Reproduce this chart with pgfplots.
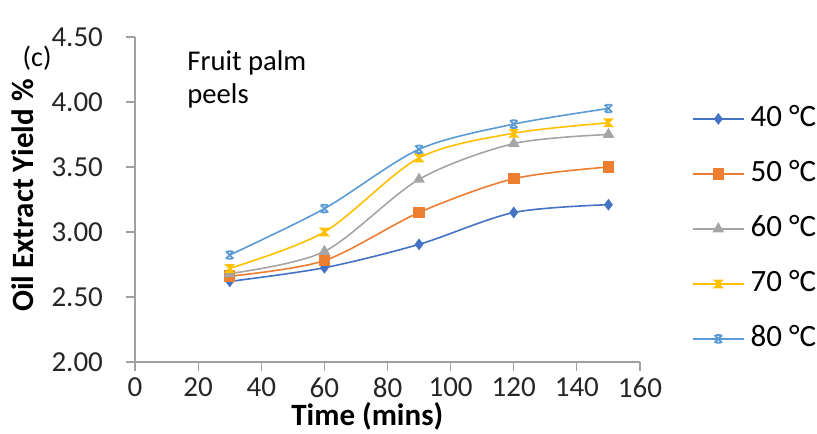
\documentclass[border=0pt]{standalone}
\usepackage{pgfplots}
\pgfplotsset{compat=1.18}
\usepackage{fontspec}
\setmainfont{Carlito}
\definecolor{cA}{HTML}{4472C4}
\definecolor{cB}{HTML}{ED7D31}
\definecolor{cC}{HTML}{A5A5A5}
\definecolor{cD}{HTML}{FFC000}
\definecolor{cE}{HTML}{5B9BD5}
\definecolor{axgray}{HTML}{A0A0A0}
\pgfdeclareplotmark{hourglass}{%
  \pgfpathmoveto{\pgfqpoint{-\pgfplotmarksize}{\pgfplotmarksize}}%
  \pgfpathlineto{\pgfqpoint{\pgfplotmarksize}{\pgfplotmarksize}}%
  \pgfpathlineto{\pgfqpoint{-\pgfplotmarksize}{-\pgfplotmarksize}}%
  \pgfpathlineto{\pgfqpoint{\pgfplotmarksize}{-\pgfplotmarksize}}%
  \pgfpathclose\pgfusepathqfillstroke}
\pgfdeclareplotmark{xcap}{%
  \pgfpathmoveto{\pgfqpoint{-\pgfplotmarksize}{\pgfplotmarksize}}%
  \pgfpathlineto{\pgfqpoint{\pgfplotmarksize}{-\pgfplotmarksize}}%
  \pgfpathmoveto{\pgfqpoint{\pgfplotmarksize}{\pgfplotmarksize}}%
  \pgfpathlineto{\pgfqpoint{-\pgfplotmarksize}{-\pgfplotmarksize}}%
  \pgfpathmoveto{\pgfqpoint{-0.6\pgfplotmarksize}{\pgfplotmarksize}}%
  \pgfpathlineto{\pgfqpoint{0.6\pgfplotmarksize}{\pgfplotmarksize}}%
  \pgfpathmoveto{\pgfqpoint{-0.6\pgfplotmarksize}{-\pgfplotmarksize}}%
  \pgfpathlineto{\pgfqpoint{0.6\pgfplotmarksize}{-\pgfplotmarksize}}%
  \pgfusepathqstroke}
\begin{document}
\begin{tikzpicture}
\useasboundingbox (-67.5pt,-35.5pt) rectangle (341pt,181pt);
\begin{axis}[
  at={(0pt,0pt)}, anchor=south west,
  scale only axis, width=252.5pt, height=162.5pt,
  xmin=0, xmax=160, ymin=2, ymax=4.5,
  xtick={0,20,...,160}, ytick={2,2.5,3,3.5,4,4.5},
  axis x line*=bottom, axis y line*=left,
  axis line style={draw=axgray, line width=0.6pt, -},
  every tick/.style={draw=axgray, line width=0.6pt},
  tick align=outside, major tick length=4.5pt,
  /pgf/number format/assume math mode=true,
  y tick label style={/pgf/number format/.cd, fixed, fixed zerofill, precision=2, /tikz/.cd, xshift=-8pt},
  tick label style={font=\fontsize{14.5}{17}\selectfont, text=black!85},
  xlabel={Time (mins)}, ylabel={Oil Extract Yield \%},
  label style={font=\fontsize{15.5}{18}\selectfont\bfseries},
  xlabel style={at={(axis description cs:0.46,-0.195)}, anchor=base},
  ylabel style={at={(axis description cs:-0.222,0.512)}, anchor=center},
  clip=false,
  legend style={at={(axis description cs:1.103,0.791)}, anchor=north west,
    draw=none, fill=none, inner sep=0pt, outer sep=0pt,
    font=\fontsize{15.5}{18}\selectfont, row sep=13.5pt,
    nodes={inner sep=0pt, text height=11pt, text depth=3pt},
    /tikz/every odd column/.append style={column sep=3pt}},
  legend cell align=left,
  legend image code/.code={\draw[mark repeat=2,mark phase=2] plot coordinates {(0pt,0pt)(12.75pt,0pt)(25.5pt,0pt)};},
  every axis plot/.append style={line width=0.8pt, smooth},
]
\addplot[cA, mark=diamond*, mark size=2.3pt, mark options={fill=cA, draw=cA}] coordinates {(30,2.62) (60,2.725) (90,2.905) (120,3.15) (150,3.21)};
\addlegendentry{40 °C}
\addplot[cB, mark=square*, mark size=2.5pt, mark options={fill=cB, draw=cB}] coordinates {(30,2.66) (60,2.78) (90,3.15) (120,3.41) (150,3.50)};
\addlegendentry{50 °C}
\addplot[cC, mark=triangle*, mark size=2.6pt, mark options={fill=cC, draw=cC}] coordinates {(30,2.68) (60,2.85) (90,3.405) (120,3.68) (150,3.75)};
\addlegendentry{60 °C}
\addplot[cD, mark=hourglass, mark size=1.8pt, mark options={fill=cD, draw=cD}] coordinates {(30,2.72) (60,3.00) (90,3.57) (120,3.76) (150,3.84)};
\addlegendentry{70 °C}
\addplot[cE, mark=xcap, mark size=1.9pt, mark options={draw=cE, line width=0.9pt}] coordinates {(30,2.823) (60,3.18) (90,3.636) (120,3.83) (150,3.95)};
\addlegendentry{80 °C}
\node[anchor=base, font=\fontsize{14}{16}\selectfont] at (axis cs:-31,4.27) {(c)};
\node[anchor=base west, inner sep=0pt, font=\fontsize{14.3}{16}\selectfont] at (axis cs:16.5,4.246) {Fruit palm};
\node[anchor=base west, inner sep=0pt, font=\fontsize{14.3}{16}\selectfont] at (axis cs:16.5,3.985) {peels};
\end{axis}
\end{tikzpicture}
\end{document}
